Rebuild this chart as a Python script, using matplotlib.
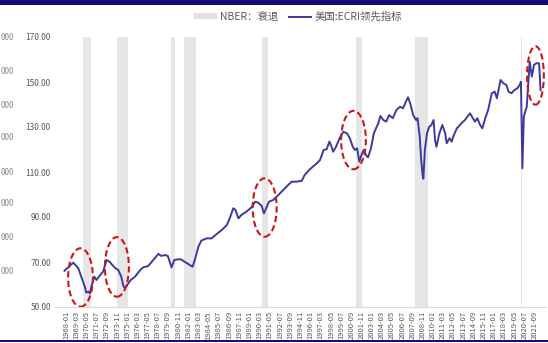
import pandas as pd
import matplotlib
matplotlib.use('Agg')
import matplotlib.pyplot as plt
import matplotlib.dates as mdates
from matplotlib.patches import Ellipse, Rectangle, Patch
from matplotlib.lines import Line2D

plt.rcParams['font.family'] = ['Noto Sans CJK SC', 'DejaVu Sans']

# ECRI weekly leading index (US), sampled monthly
months = [
    '1967-11', '1968-04', '1968-11', '1969-02', '1969-06', '1969-10', '1970-03', '1970-05',
    '1970-08', '1970-10', '1970-12', '1971-04', '1971-07', '1971-12', '1972-04', '1972-09',
    '1973-01', '1973-06', '1973-09', '1974-01', '1974-05', '1974-08', '1974-10', '1975-02',
    '1975-06', '1975-12', '1976-07', '1976-11', '1977-06', '1978-01', '1978-08', '1978-12',
    '1979-05', '1979-09', '1980-02', '1980-06', '1980-11', '1981-03', '1981-08', '1982-03',
    '1982-07', '1982-10', '1983-03', '1983-07', '1984-02', '1984-09', '1985-04', '1985-11',
    '1986-06', '1986-10', '1987-03', '1987-06', '1987-10', '1988-02', '1988-09', '1989-04',
    '1989-09', '1990-01', '1990-06', '1990-09', '1990-12', '1991-04', '1991-10', '1992-07',
    '1993-04', '1993-11', '1994-06', '1995-01', '1995-05', '1995-12', '1996-07', '1997-02',
    '1997-07', '1997-11', '1998-03', '1998-06', '1998-08', '1998-12', '1999-05', '1999-10',
    '2000-03', '2000-07', '2000-11', '2001-02', '2001-05', '2001-08', '2001-11', '2002-02',
    '2002-05', '2002-08', '2002-12', '2003-04', '2003-10', '2004-01', '2004-05', '2004-09',
    '2005-01', '2005-06', '2005-11', '2006-04', '2006-08', '2007-01', '2007-03', '2007-06',
    '2007-10', '2008-02', '2008-04', '2008-07', '2008-09', '2008-11', '2008-12', '2009-02',
    '2009-05', '2009-08', '2009-11', '2010-02', '2010-04', '2010-06', '2010-10', '2011-02',
    '2011-06', '2011-08', '2011-12', '2012-03', '2012-05', '2012-10', '2013-05', '2013-09',
    '2014-02', '2014-04', '2014-08', '2014-11', '2015-02', '2015-06', '2015-09', '2016-01',
    '2016-05', '2016-10', '2017-02', '2017-05', '2017-10', '2018-02', '2018-06', '2018-09',
    '2019-01', '2019-05', '2019-09', '2019-12', '2020-02', '2020-04', '2020-06', '2020-08',
    '2020-10', '2021-02', '2021-05', '2021-08', '2021-11', '2022-03', '2022-05',
]
ecri = [
    66.1, 67.6, 69.7, 68.7, 67.2, 63.5, 59.0, 56.4,
    56.8, 56.0, 59.0, 63.5, 62.0, 64.2, 65.7, 70.9,
    70.1, 68.2, 67.2, 66.4, 63.5, 59.3, 58.3, 60.2,
    62.0, 63.5, 66.4, 67.6, 68.2, 70.9, 73.6, 72.7,
    73.1, 72.7, 67.6, 70.9, 71.2, 71.2, 70.1, 68.7,
    67.9, 70.9, 76.8, 79.5, 80.5, 80.5, 82.4, 84.2,
    86.4, 89.4, 93.9, 93.1, 89.4, 90.9, 92.4, 94.3,
    96.8, 96.4, 94.9, 91.6, 93.9, 96.8, 97.6, 100.5,
    103.5, 105.7, 105.7, 106.1, 108.7, 111.2, 113.1, 115.3,
    119.8, 120.1, 123.5, 121.2, 119.0, 121.2, 125.0, 127.9,
    127.2, 125.0, 121.2, 119.8, 120.5, 114.6, 117.6, 119.8,
    117.6, 116.5, 120.5, 127.2, 131.6, 134.9, 133.1, 132.4,
    135.3, 133.9, 137.6, 139.0, 138.3, 142.0, 143.2, 140.5,
    135.3, 133.1, 133.9, 125.8, 115.3, 108.5, 107.0, 119.8,
    127.2, 130.1, 130.9, 133.1, 124.2, 121.2, 127.2, 130.9,
    127.2, 122.8, 125.0, 123.5, 125.7, 129.4, 131.9, 133.1,
    135.3, 136.1, 133.9, 132.4, 133.9, 130.9, 129.4, 133.9,
    137.6, 145.0, 145.7, 142.8, 150.9, 149.4, 148.7, 145.7,
    145.0, 146.4, 147.2, 148.5, 150.1, 111.6, 134.6, 137.0,
    139.0, 159.0, 152.4, 157.6, 158.3, 158.3, 146.4,
]

# NBER recession periods
nber_start = ['1969-12', '1973-11', '1980-01', '1981-07', '1990-07', '2001-03', '2007-12', '2020-02']
nber_end = ['1970-11', '1975-03', '1980-07', '1982-11', '1991-03', '2001-11', '2009-06', '2020-04']

# highlighted turning points: centre month, centre value, width (months), height
marks_month = ['1969-09', '1973-11', '1990-10', '2000-12', '2021-10']
marks_value = [63.1, 67.8, 94.2, 124.2, 152.9]
marks_width = [34, 33, 33, 34, 23]
marks_height = [26, 26.5, 26, 26, 26]

yticks = [50, 70, 90, 110, 130, 150, 170]

grey = '#595959'
line_color = '#3d3a9e'

x = pd.to_datetime(months)
fig = plt.figure(figsize=(5.48, 3.43), dpi=100)
ax = fig.add_axes([55 / 548, 1 - 307 / 343, 491 / 548, 270 / 343])

for s, e in zip(nber_start, nber_end):
    ax.axvspan(pd.Timestamp(s), pd.Timestamp(e), color='#e6e6e6', lw=0, zorder=0)

ax.plot(x, ecri, color=line_color, lw=1.4, zorder=3)

for m, v, w, h in zip(marks_month, marks_value, marks_width, marks_height):
    c = mdates.date2num(pd.Timestamp(m))
    ax.add_patch(Ellipse((c, v), w * 30.44, h, fill=False, ec='#cc1515',
                         lw=1.5, ls=(0, (3, 1.6)), zorder=4))

ax.set_ylim(50, 170)
ax.set_xlim(pd.Timestamp('1966-10-01'), pd.Timestamp('2022-12-15'))
ax.set_yticks(yticks)
ax.set_yticklabels([f'{t:.2f}' for t in yticks])

tick_dates = pd.date_range('1968-01-01', '2021-09-01', freq='14MS')
ax.set_xticks(tick_dates)
ax.set_xticklabels([d.strftime('%Y-%m') for d in tick_dates], rotation=90)

ax.tick_params(axis='y', length=0, pad=3, labelsize=6, labelcolor=grey)
ax.tick_params(axis='x', length=0, pad=3, labelsize=5.5, labelcolor=grey)
for side in ['top', 'right', 'left']:
    ax.spines[side].set_visible(False)
ax.spines['bottom'].set_color('#d9d9d9')
ax.spines['bottom'].set_linewidth(0.8)

handles = [Patch(facecolor='#e0e0e0', edgecolor='none'),
           Line2D([], [], color=line_color, lw=1.4)]
fig.legend(handles, ['NBER：衰退', '美国:ECRI领先指标'], loc='center',
           bbox_to_anchor=(298 / 548, 1 - 17 / 343), ncol=2, frameon=False,
           fontsize=7.5, labelcolor=grey, handlelength=2.2, handleheight=0.5,
           columnspacing=1.0, handletextpad=0.3)

# tail ends of a neighbouring axis's labels on the far left
for yy in [37, 72, 105, 138, 172, 204, 238, 272]:
    fig.text(0.5 / 548, 1 - yy / 343, '000', fontsize=6, color='#8c8c8c',
             ha='left', va='center')

# frame bars top and bottom
fig.add_artist(Rectangle((0, 1 - 5 / 343), 1, 5 / 343, transform=fig.transFigure,
                         color='#150c7a', lw=0))
fig.add_artist(Rectangle((0, 1 / 343), 1, 2 / 343, transform=fig.transFigure,
                         color='#150c7a', lw=0))

fig.savefig('out.png', dpi=100)
